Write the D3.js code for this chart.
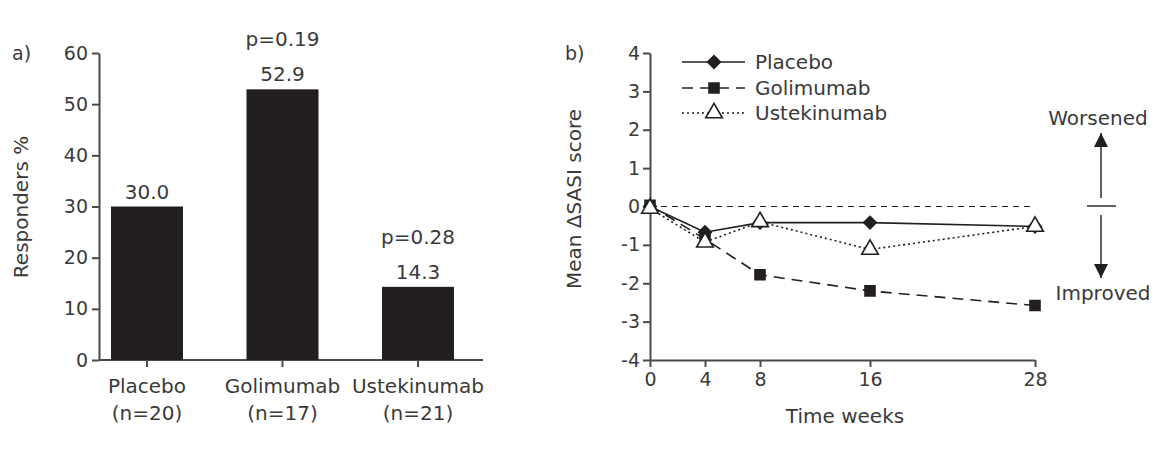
<!DOCTYPE html>
<html>
<head>
<meta charset="utf-8">
<script src="https://cdn.jsdelivr.net/npm/d3@7"></script>
<style>
  body { margin: 0; background: #fff; }
  text { font-family: "DejaVu Sans", sans-serif; fill: #3a3a3a; }
</style>
</head>
<body>
<div id="viz"></div>
<script>
// panel a data
const groups = ['Placebo', 'Golimumab', 'Ustekinumab'];
const groupN = ['(n=20)', '(n=17)', '(n=21)'];
const responders = [30.0, 52.9, 14.3];
const pLabels = ['', 'p=0.19', 'p=0.28'];
const respTicks = [0, 10, 20, 30, 40, 50, 60];

// panel b data
const weeks = [0, 4, 8, 16, 28];
const scoreTicks = [-4, -3, -2, -1, 0, 1, 2, 3, 4];
const placebo = [0, -0.67, -0.42, -0.42, -0.52];
const golimumab = [0.03, -0.85, -1.78, -2.2, -2.58];
const ustekinumab = [-0.05, -0.93, -0.4, -1.12, -0.52];

const ink = '#231f20';
const axisCol = '#4a4a4a';

const svg = d3.select('#viz')
      .append('svg')
      .attr('width', 1164)
      .attr('height', 457);

function styleAxis(g) {
    g.selectAll('path, line').attr('stroke', axisCol).attr('stroke-width', 2);
    g.selectAll('text').attr('font-size', 19).style('fill', '#3a3a3a')
        .attr('font-family', '"DejaVu Sans", sans-serif');
}

// plain hyphen minus, like the original
const plain = d => String(d);

// ---------- panel a ----------
const xa = d3.scalePoint().domain(groups).range([147, 418]);
const ya = d3.scaleLinear().domain([0, 60]).range([360, 53]);
const barW = 72;

svg.append('text').attr('x', 12).attr('y', 60).attr('font-size', 19).text('a)');

svg.append('g')
    .attr('transform', 'translate(99,0)')
    .call(d3.axisLeft(ya).tickValues(respTicks).tickFormat(plain)
        .tickSize(7).tickSizeOuter(0).tickPadding(4))
    .call(styleAxis);

const xAxisA = svg.append('g').attr('transform', 'translate(0,360)');
xAxisA.append('line').attr('x1', 99).attr('x2', 483).attr('stroke', axisCol).attr('stroke-width', 2);
xAxisA.selectAll('line.tk').data(groups).join('line')
    .attr('class', 'tk')
    .attr('x1', d => xa(d)).attr('x2', d => xa(d))
    .attr('y1', 0).attr('y2', 7)
    .attr('stroke', axisCol).attr('stroke-width', 2);

svg.append('text')
    .attr('transform', 'translate(28,207) rotate(-90)')
    .attr('text-anchor', 'middle')
    .attr('font-size', 20)
    .text('Responders %');

svg.selectAll('rect.bar').data(groups).join('rect')
    .attr('class', 'bar')
    .attr('x', d => xa(d) - barW / 2)
    .attr('width', barW)
    .attr('y', (d, i) => ya(responders[i]))
    .attr('height', (d, i) => ya(0) - ya(responders[i]))
    .attr('fill', ink);

svg.selectAll('text.val').data(groups).join('text')
    .attr('class', 'val')
    .attr('x', d => xa(d))
    .attr('y', (d, i) => ya(responders[i]) - 8)
    .attr('text-anchor', 'middle')
    .attr('font-size', 20)
    .text((d, i) => responders[i].toFixed(1));

svg.selectAll('text.pv').data(groups).join('text')
    .attr('class', 'pv')
    .attr('x', d => xa(d))
    .attr('y', (d, i) => ya(responders[i]) - 43)
    .attr('text-anchor', 'middle')
    .attr('font-size', 20)
    .text((d, i) => pLabels[i]);

svg.selectAll('text.cat').data(groups).join('text')
    .attr('class', 'cat')
    .attr('x', d => xa(d))
    .attr('y', 393)
    .attr('text-anchor', 'middle')
    .attr('font-size', 20)
    .text(d => d);

svg.selectAll('text.n').data(groups).join('text')
    .attr('class', 'n')
    .attr('x', d => xa(d))
    .attr('y', 420)
    .attr('text-anchor', 'middle')
    .attr('font-size', 20)
    .text((d, i) => groupN[i]);

// ---------- panel b ----------
const xb = d3.scaleLinear().domain([0, 28]).range([650, 1035]);
const yb = d3.scaleLinear().domain([-4, 4]).range([360, 53]);

svg.append('text').attr('x', 565).attr('y', 60).attr('font-size', 19).text('b)');

svg.append('g')
    .attr('transform', 'translate(650,0)')
    .call(d3.axisLeft(yb).tickValues(scoreTicks).tickFormat(plain)
        .tickSize(7).tickSizeOuter(0).tickPadding(3))
    .call(styleAxis);

svg.append('g')
    .attr('transform', 'translate(0,360)')
    .call(d3.axisBottom(xb).tickValues(weeks).tickFormat(plain)
        .tickSize(7).tickSizeOuter(0).tickPadding(6))
    .call(styleAxis);

svg.append('text')
    .attr('transform', 'translate(581,199) rotate(-90)')
    .attr('text-anchor', 'middle')
    .attr('font-size', 20)
    .text('Mean \u0394SASI score');

svg.append('text')
    .attr('x', 845).attr('y', 423)
    .attr('text-anchor', 'middle')
    .attr('font-size', 20)
    .text('Time weeks');

// zero reference
svg.append('line')
    .attr('x1', xb(0)).attr('x2', xb(28))
    .attr('y1', yb(0)).attr('y2', yb(0))
    .attr('stroke', ink).attr('stroke-width', 1.2)
    .attr('stroke-dasharray', '6,5');

const series = [
    { name: 'Placebo', values: placebo, dash: null, shape: d3.symbolSquare, rot: 45, size: 80, fill: ink },
    { name: 'Golimumab', values: golimumab, dash: '11,7', shape: d3.symbolSquare, rot: 0, size: 100, fill: ink },
    { name: 'Ustekinumab', values: ustekinumab, dash: '2,3', shape: d3.symbolTriangle, rot: 0, size: 120, fill: '#fff' }
];

const line = d3.line().x(d => xb(d[0])).y(d => yb(d[1]));

series.forEach(s => {
    const pts = weeks.map((w, i) => [w, s.values[i]]);
    svg.append('path')
        .attr('d', line(pts))
        .attr('fill', 'none')
        .attr('stroke', ink)
        .attr('stroke-width', 1.6)
        .attr('stroke-dasharray', s.dash);
});

series.forEach(s => {
    const pts = weeks.map((w, i) => [w, s.values[i]]);
    svg.selectAll(null).data(pts).join('path')
        .attr('transform', d => `translate(${xb(d[0])},${yb(d[1])}) rotate(${s.rot})`)
        .attr('d', d3.symbol().type(s.shape).size(s.size))
        .attr('fill', s.fill)
        .attr('stroke', ink)
        .attr('stroke-width', 1.6);
});

// legend
const legY = [62, 88, 113];
series.forEach((s, i) => {
    svg.append('line')
        .attr('x1', 682).attr('x2', 745)
        .attr('y1', legY[i]).attr('y2', legY[i])
        .attr('stroke', ink).attr('stroke-width', 1.6)
        .attr('stroke-dasharray', s.dash);
    svg.append('path')
        .attr('transform', `translate(714,${legY[i]}) rotate(${s.rot})`)
        .attr('d', d3.symbol().type(s.shape).size(s.size))
        .attr('fill', s.fill)
        .attr('stroke', ink)
        .attr('stroke-width', 1.6);
    svg.append('text')
        .attr('x', 755).attr('y', legY[i] + 7)
        .attr('font-size', 20)
        .text(s.name);
});

// worsened / improved annotation
svg.append('defs').append('marker')
    .attr('id', 'head')
    .attr('viewBox', '0 0 10 10')
    .attr('refX', 10).attr('refY', 5)
    .attr('markerWidth', 14).attr('markerHeight', 14)
    .attr('markerUnits', 'userSpaceOnUse')
    .attr('orient', 'auto')
    .append('path').attr('d', 'M0,0L10,5L0,10z').attr('fill', ink);

svg.append('line')
    .attr('x1', 1101).attr('x2', 1101).attr('y1', 198).attr('y2', 133)
    .attr('stroke', ink).attr('stroke-width', 1.4).attr('marker-end', 'url(#head)');
svg.append('line')
    .attr('x1', 1101).attr('x2', 1101).attr('y1', 215).attr('y2', 278)
    .attr('stroke', ink).attr('stroke-width', 1.4).attr('marker-end', 'url(#head)');
svg.append('line')
    .attr('x1', 1087).attr('x2', 1116).attr('y1', 206).attr('y2', 206)
    .attr('stroke', ink).attr('stroke-width', 1.4);

svg.append('text')
    .attr('x', 1098).attr('y', 125)
    .attr('text-anchor', 'middle')
    .attr('font-size', 20)
    .text('Worsened');
svg.append('text')
    .attr('x', 1103).attr('y', 300)
    .attr('text-anchor', 'middle')
    .attr('font-size', 20)
    .text('Improved');
</script>
</body>
</html>
